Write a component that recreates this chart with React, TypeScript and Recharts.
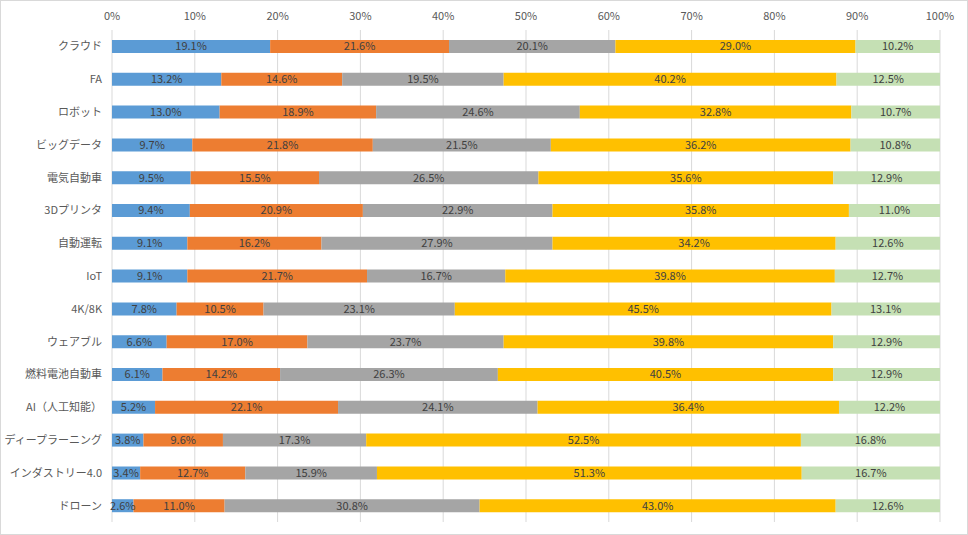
import React from 'react';
import { BarChart, Bar, XAxis, YAxis, CartesianGrid, LabelList } from 'recharts';

const categories = [
  'クラウド', 'FA', 'ロボット', 'ビッグデータ', '電気自動車', '3Dプリンタ', '自動運転', 'IoT',
  '4K/8K', 'ウェアブル', '燃料電池自動車', 'AI（人工知能）', 'ディープラーニング', 'インダストリー4.0', 'ドローン',
];
const s1 = [19.1, 13.2, 13.0, 9.7, 9.5, 9.4, 9.1, 9.1, 7.8, 6.6, 6.1, 5.2, 3.8, 3.4, 2.6];
const s2 = [21.6, 14.6, 18.9, 21.8, 15.5, 20.9, 16.2, 21.7, 10.5, 17.0, 14.2, 22.1, 9.6, 12.7, 11.0];
const s3 = [20.1, 19.5, 24.6, 21.5, 26.5, 22.9, 27.9, 16.7, 23.1, 23.7, 26.3, 24.1, 17.3, 15.9, 30.8];
const s4 = [29.0, 40.2, 32.8, 36.2, 35.6, 35.8, 34.2, 39.8, 45.5, 39.8, 40.5, 36.4, 52.5, 51.3, 43.0];
const s5 = [10.2, 12.5, 10.7, 10.8, 12.9, 11.0, 12.6, 12.7, 13.1, 12.9, 12.9, 12.2, 16.8, 16.7, 12.6];
const ticks = [0, 10, 20, 30, 40, 50, 60, 70, 80, 90, 100];

const series = [
  { key: 's1', color: '#5B9BD5' },
  { key: 's2', color: '#ED7D31' },
  { key: 's3', color: '#A5A5A5' },
  { key: 's4', color: '#FFC000' },
  { key: 's5', color: '#C5E0B4' },
];

const data = categories.map((name, i) => ({
  name, s1: s1[i], s2: s2[i], s3: s3[i], s4: s4[i], s5: s5[i],
}));

const font = '"Noto Sans CJK JP", "Noto Sans", sans-serif';

export default function App() {
  return (
    <div style={{ position: 'absolute', left: 0, top: 0, width: 968, height: 535, background: '#fff', boxSizing: 'border-box', border: '1px solid #d9d9d9', fontFamily: font }}>
      <BarChart
        width={966}
        height={533}
        data={data}
        layout="vertical"
        barSize={13}
        margin={{ top: 9, right: 27, bottom: 12, left: 11 }}
      >
        <CartesianGrid horizontal={false} stroke="#d9d9d9" />
        <XAxis
          type="number"
          orientation="top"
          domain={[0, 100]}
          ticks={ticks}
          allowDataOverflow
          height={20}
          axisLine={false}
          tickLine={false}
          tickSize={0}
          tickMargin={10}
          tickFormatter={(v: number) => `${v}%`}
          tick={{ fontSize: 11, fill: '#595959', fontFamily: font }}
        />
        <YAxis
          type="category"
          dataKey="name"
          width={100}
          axisLine={false}
          tickLine={false}
          tickSize={0}
          tickMargin={10}
          interval={0}
          tick={{ fontSize: 11, fill: '#595959', fontFamily: font }}
        />
        {series.map(s => (
          <Bar key={s.key} dataKey={s.key} stackId="a" fill={s.color} isAnimationActive={false}>
            <LabelList
              dataKey={s.key}
              position="center"
              formatter={(v: number) => `${v.toFixed(1)}%`}
              style={{ fontSize: 11, fill: '#404040', fontFamily: font }}
            />
          </Bar>
        ))}
      </BarChart>
    </div>
  );
}
